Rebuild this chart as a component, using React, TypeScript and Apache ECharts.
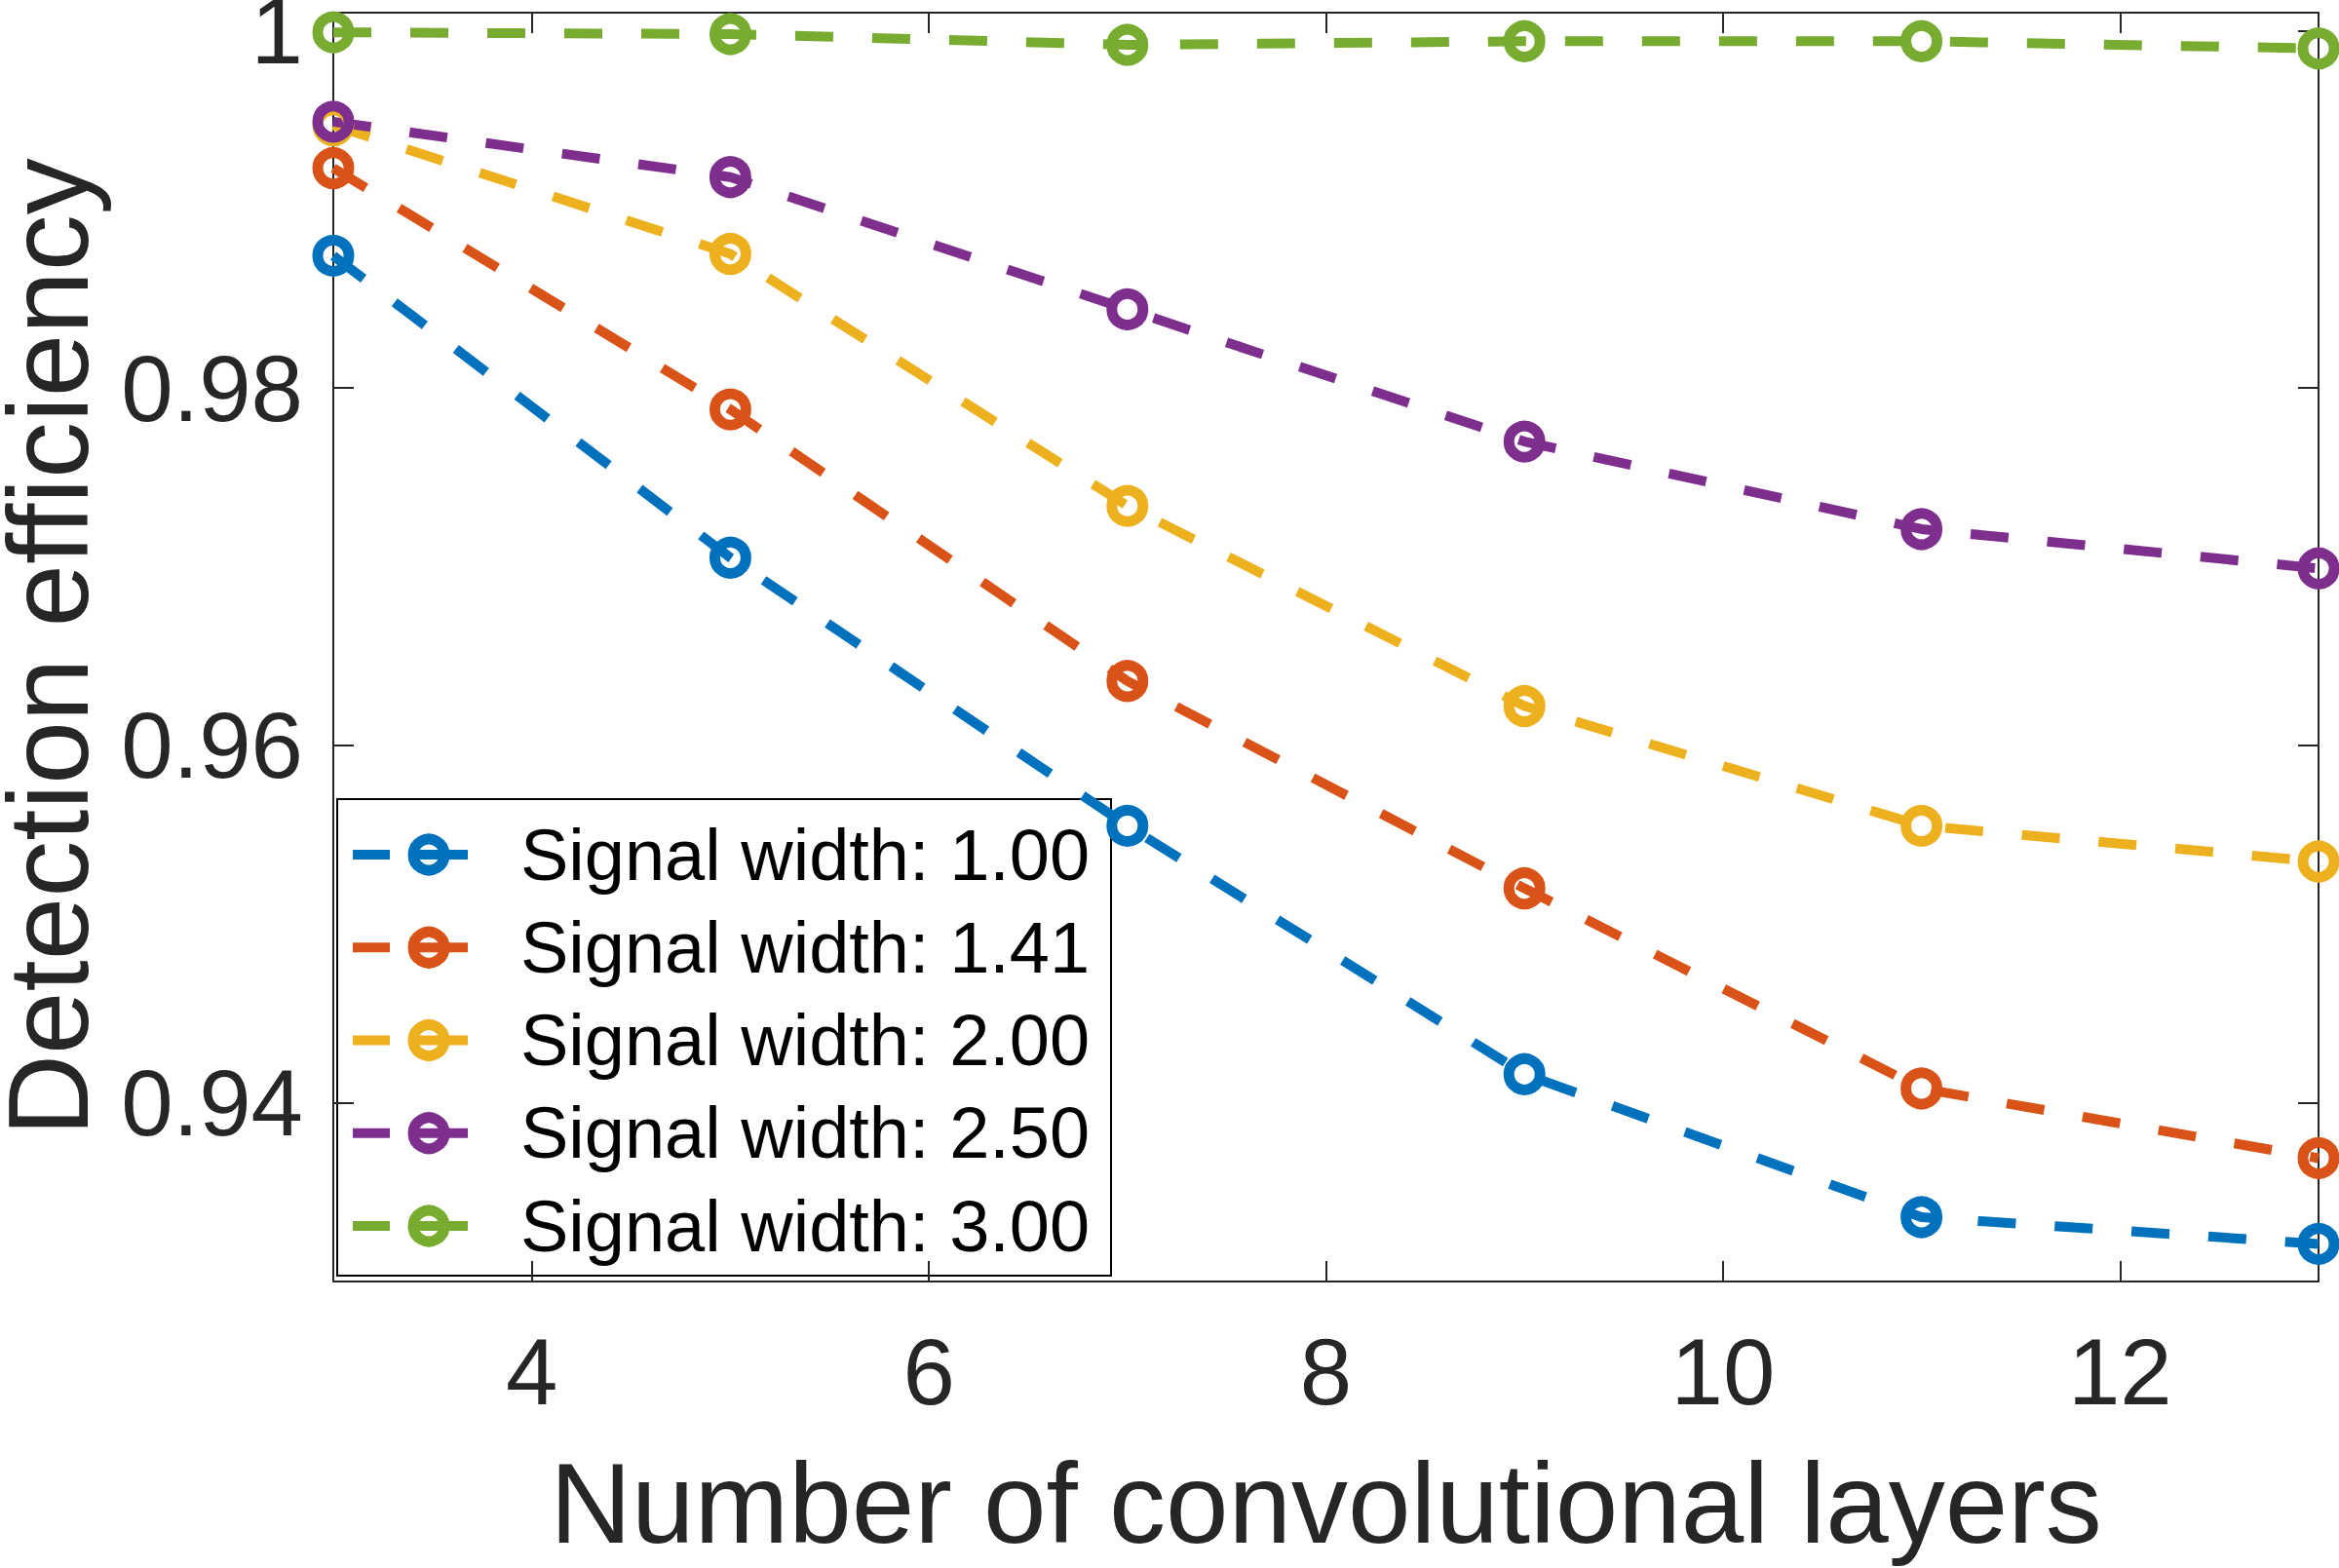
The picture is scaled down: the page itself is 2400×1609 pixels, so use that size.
import React, { useEffect, useRef } from "react";
import * as echarts from "echarts";

const layers = [3, 5, 7, 9, 11, 13];
const seriesNames = [
  "Signal width: 1.00",
  "Signal width: 1.41",
  "Signal width: 2.00",
  "Signal width: 2.50",
  "Signal width: 3.00",
];
const width100 = [0.9874, 0.9705, 0.9555, 0.9416, 0.9336, 0.9321];
const width141 = [0.9923, 0.9788, 0.9636, 0.952, 0.9408, 0.9369];
const width200 = [0.9947, 0.9875, 0.9734, 0.9622, 0.9555, 0.9535];
const width250 = [0.9949, 0.9918, 0.9844, 0.977, 0.9721, 0.9699];
const width300 = [0.9999, 0.9998, 0.9992, 0.9994, 0.9994, 0.999];
const colors = ["#0072BD", "#D95319", "#EDB120", "#7E2F8E", "#77AC30"];
const xTicks = [4, 6, 8, 10, 12];
const yTicks = [0.94, 0.96, 0.98, 1.0];

const FONT = "'Liberation Sans', Arial, Helvetica, sans-serif";
const AX = "#262626";
const LINE_W = 10;
const RING_W = 11;

function buildLegend() {
  const left = 346;
  const top = 820;
  const w = 794;
  const h = 489;
  const firstCy = 877;
  const pitch = 95.25;
  const children: any[] = [
    {
      type: "rect",
      shape: { x: left, y: top, width: w, height: h },
      style: { fill: "#ffffff", stroke: "#000000", lineWidth: 2 },
    },
  ];
  seriesNames.forEach((name, i) => {
    const cy = firstCy + pitch * i;
    const c = colors[i];
    children.push({
      type: "line",
      shape: { x1: 362, y1: cy, x2: 400, y2: cy },
      style: { stroke: c, lineWidth: LINE_W },
    });
    children.push({
      type: "line",
      shape: { x1: 421, y1: cy, x2: 480, y2: cy },
      style: { stroke: c, lineWidth: LINE_W },
    });
    children.push({
      type: "circle",
      shape: { cx: 440, cy, r: 16 },
      style: { fill: "none", stroke: c, lineWidth: RING_W },
    });
    children.push({
      type: "text",
      x: 534,
      y: cy,
      style: {
        text: name,
        fill: "#000000",
        fontSize: 74,
        fontFamily: FONT,
        verticalAlign: "middle",
        align: "left",
      },
    });
  });
  return { type: "group", z: 100, children };
}

export default function App() {
  const ref = useRef<HTMLDivElement>(null);
  useEffect(() => {
    if (!ref.current) return;
    const chart = echarts.init(ref.current, undefined, { renderer: "svg" });
    const all = [width100, width141, width200, width250, width300];
    const axisLine = { show: true, onZero: false, lineStyle: { color: AX, width: 2 } };
    const tick = { show: true, inside: true, length: 21, lineStyle: { color: AX, width: 2 } };
    const option: any = {
      animation: false,
      backgroundColor: "#ffffff",
      grid: {
        left: 342,
        top: 13,
        width: 2037,
        height: 1302,
        containLabel: false,
        outerBoundsMode: "none",
      },
      xAxis: [
        {
          type: "value",
          min: 3,
          max: 13,
          position: "bottom",
          axisLine,
          axisTick: { ...tick, customValues: xTicks },
          axisLabel: { show: true, customValues: xTicks, margin: 44, fontSize: 96, color: AX, fontFamily: FONT },
          splitLine: { show: false },
          name: "Number of convolutional layers",
          nameLocation: "middle",
          nameGap: 170,
          nameTextStyle: { fontSize: 116, color: AX, fontFamily: FONT },
        },
        {
          type: "value",
          min: 3,
          max: 13,
          position: "top",
          axisLine,
          axisTick: { ...tick, customValues: xTicks },
          axisLabel: { show: false },
          splitLine: { show: false },
        },
      ],
      yAxis: [
        {
          type: "value",
          min: 0.93,
          max: 1.001,
          position: "left",
          axisLine,
          axisTick: { ...tick, customValues: yTicks },
          axisLabel: {
            show: true,
            customValues: yTicks,
            margin: 31,
            fontSize: 96,
            lineHeight: 60,
            color: AX,
            fontFamily: FONT,
            formatter: (v: number) => (Math.abs(v - 1) < 1e-9 ? "1" : v.toFixed(2)),
          },
          splitLine: { show: false },
          name: "Detection efficiency",
          nameLocation: "middle",
          nameGap: 246,
          nameTextStyle: { fontSize: 116, lineHeight: 92, color: AX, fontFamily: FONT },
        },
        {
          type: "value",
          min: 0.93,
          max: 1.001,
          position: "right",
          axisLine,
          axisTick: { ...tick, customValues: yTicks },
          axisLabel: { show: false },
          splitLine: { show: false },
        },
      ],
      graphic: [buildLegend()],
      series: all.map((vals, i) => ({
        type: "line",
        name: seriesNames[i],
        xAxisIndex: 0,
        yAxisIndex: 0,
        data: layers.map((x, j) => [x, vals[j]]),
        symbol: "circle",
        symbolSize: 32,
        showAllSymbol: true,
        clip: false,
        itemStyle: { color: "rgba(255,255,255,0)", borderColor: colors[i], borderWidth: RING_W },
        lineStyle: { color: colors[i], width: LINE_W, type: [39, 40], cap: "butt" },
        emphasis: { disabled: true },
      })),
    };
    chart.setOption(option);
    return () => chart.dispose();
  }, []);
  return (
    <div
      ref={ref}
      style={{ position: "fixed", left: 0, top: 0, width: 2400, height: 1609, background: "#fff" }}
    />
  );
}
